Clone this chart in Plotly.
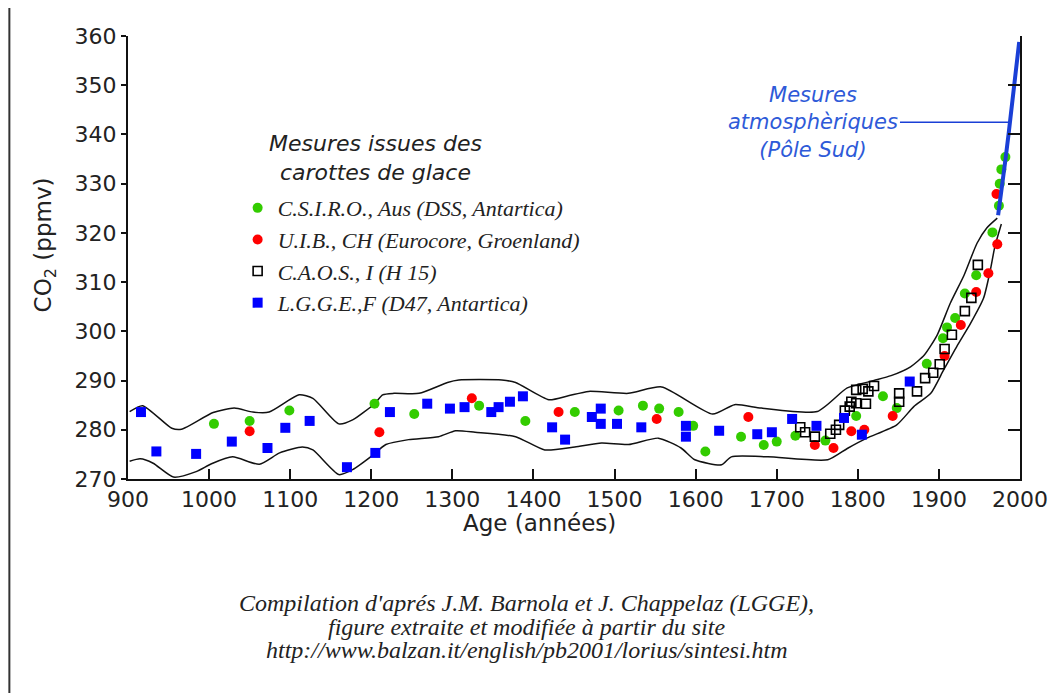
import plotly.graph_objects as go

# ---------------- data ----------------
csiro_year = [1006, 1050, 1099, 1204, 1253, 1333, 1390, 1451, 1505, 1535, 1555, 1579,
              1597, 1612, 1656, 1684, 1700, 1723, 1760, 1798, 1831, 1848, 1885, 1905,
              1910, 1920, 1932, 1946, 1966, 1974, 1975, 1977, 1982]
csiro_co2 = [281.2, 281.8, 283.9, 285.3, 283.2, 284.9, 281.8, 283.6, 283.9, 284.9, 284.3, 283.6,
             280.8, 275.6, 278.6, 276.9, 277.6, 278.8, 277.8, 282.8, 286.8, 284.4, 293.4, 298.6,
             300.8, 302.7, 307.7, 311.4, 320.1, 325.5, 330.0, 332.9, 335.4]

uib_year = [1050, 1210, 1324, 1431, 1552, 1665, 1747, 1770, 1792, 1808, 1843, 1907,
            1927, 1946, 1961, 1971, 1972]
uib_co2 = [279.7, 279.5, 286.4, 283.6, 282.2, 282.6, 276.9, 276.3, 279.7, 280.0, 282.8, 295.0,
           301.3, 308.0, 311.8, 327.9, 317.7]

caos_year = [1729, 1735, 1747, 1766, 1773, 1777, 1784, 1790, 1792, 1798, 1810, 1798, 1806,
             1813, 1820, 1851, 1851, 1873, 1883, 1893, 1901, 1907, 1916, 1932, 1940, 1948]
caos_co2 = [280.5, 279.5, 278.6, 279.2, 280.0, 281.0, 283.9, 284.7, 285.7, 285.4, 285.3, 288.1, 288.3,
            287.8, 288.9, 287.4, 285.7, 287.8, 290.5, 291.6, 293.3, 296.4, 299.3, 304.1, 306.8, 313.5]

lgge_year = [916, 935, 984, 1028, 1072, 1094, 1124, 1170, 1205, 1223, 1269, 1297, 1315, 1348,
             1357, 1371, 1387, 1423, 1439, 1472, 1483, 1483, 1503, 1533, 1588, 1588, 1629,
             1676, 1694, 1719, 1749, 1783, 1805, 1864]
lgge_co2 = [283.6, 275.6, 275.1, 277.6, 276.3, 280.4, 281.8, 272.4, 275.3, 283.6, 285.3, 284.3, 284.6, 283.6,
            284.6, 285.7, 286.8, 280.5, 278.0, 282.6, 284.3, 281.2, 281.2, 280.5, 280.8, 278.6, 279.8,
            279.1, 279.5, 282.2, 280.8, 282.4, 279.0, 289.8]

upper_year = [902, 918, 954, 966, 1005, 1031, 1054, 1074, 1111, 1128, 1160, 1177, 1204, 1214,
              1228, 1259, 1294, 1308, 1361, 1378, 1419, 1443, 1468, 1517, 1558, 1621, 1648,
              1681, 1750, 1787, 1820, 1841, 1865, 1882, 1898, 1914, 1931, 1947, 1959, 1972]
upper_co2 = [283.7, 284.9, 280.3, 280.1, 283.5, 284.4, 283.6, 283.6, 287.1, 286.4, 281.2, 282.0, 285.3, 287.1,
             287.4, 287.4, 289.6, 290.1, 290.1, 289.6, 286.1, 286.9, 287.8, 287.4, 288.7, 283.2, 285.1,
             284.4, 283.7, 288.5, 290.0, 291.0, 292.8, 295.2, 299.3, 305.7, 311.4, 317.9, 321.0, 323.0]

lower_year = [902, 915, 931, 956, 984, 1003, 1029, 1062, 1087, 1115, 1128, 1160, 1177, 1200,
              1218, 1246, 1283, 1304, 1328, 1378, 1414, 1451, 1484, 1517, 1554, 1582, 1599,
              1632, 1644, 1689, 1763, 1787, 1811, 1848, 1869, 1890, 1906, 1922, 1939, 1955,
              1963, 1969, 1977]
lower_co2 = [273.6, 274.1, 273.2, 270.4, 271.5, 273.1, 274.5, 273.0, 275.3, 276.5, 275.9, 270.9, 271.9, 274.6,
             277.0, 278.0, 278.6, 279.8, 279.5, 278.6, 275.9, 276.5, 277.3, 277.0, 278.3, 276.3, 273.9,
             272.9, 274.5, 274.5, 273.9, 276.2, 278.3, 281.0, 284.7, 287.4, 292.2, 296.9, 301.6, 306.7,
             312.1, 317.2, 321.8]

atm_year = [1973, 1978, 1982, 1986, 1989, 1993, 1996, 1999]
atm_co2 = [323.6, 329.4, 334.8, 340.2, 344.9, 350.3, 355.4, 358.8]

x_ticks = [900, 1000, 1100, 1200, 1300, 1400, 1500, 1600, 1700, 1800, 1900, 2000]
y_ticks = [270, 280, 290, 300, 310, 320, 330, 340, 350, 360]

names = ["C.S.I.R.O., Aus (DSS, Antartica)",
         "U.I.B., CH (Eurocore, Groenland)",
         "C.A.O.S., I (H 15)",
         "L.G.G.E.,F (D47, Antartica)"]

# ---------------- figure ----------------
fig = go.Figure()

env_line = dict(color="#111111", width=1.5, shape="spline", smoothing=0.6)
fig.add_trace(go.Scatter(x=upper_year, y=upper_co2, mode="lines", line=env_line,
                         showlegend=False, hoverinfo="skip"))
fig.add_trace(go.Scatter(x=lower_year, y=lower_co2, mode="lines", line=env_line,
                         showlegend=False, hoverinfo="skip"))

fig.add_trace(go.Scatter(x=csiro_year, y=csiro_co2, mode="markers", name=names[0],
                         marker=dict(symbol="circle", size=10, color="#33cc00")))
fig.add_trace(go.Scatter(x=uib_year, y=uib_co2, mode="markers", name=names[1],
                         marker=dict(symbol="circle", size=10, color="#ff0000")))
fig.add_trace(go.Scatter(x=caos_year, y=caos_co2, mode="markers", name=names[2],
                         marker=dict(symbol="square-open", size=9, color="#000000",
                                     line=dict(width=1.6, color="#000000"))))
fig.add_trace(go.Scatter(x=lgge_year, y=lgge_co2, mode="markers", name=names[3],
                         marker=dict(symbol="square", size=10, color="#0000ff")))

fig.add_trace(go.Scatter(x=atm_year, y=atm_co2, mode="lines", yaxis="y2",
                         line=dict(color="#1a3fd6", width=4),
                         showlegend=False, hoverinfo="skip"))

tick_font = dict(family="DejaVu Sans", size=22, color="#222222")

# the page adds an 8px body margin, so the figure is 8px smaller than the window
fig.update_layout(
    width=1052, height=685,
    paper_bgcolor="white", plot_bgcolor="white",
    margin=dict(l=120, r=37, t=28, b=214),
    xaxis=dict(range=[900, 2000], tickmode="array", tickvals=x_ticks,
               ticks="inside", ticklen=10, tickwidth=1.5, tickcolor="#111",
               showline=True, linecolor="#111", linewidth=2, mirror=False,
               showgrid=False, zeroline=False, tickfont=tick_font),
    yaxis=dict(range=[270, 360], tickmode="array", tickvals=y_ticks,
               ticks="outside", ticklen=5, tickwidth=1.5, tickcolor="#111",
               showline=True, linecolor="#111", linewidth=2,
               showgrid=False, zeroline=False, tickfont=tick_font),
    yaxis2=dict(range=[270, 360], overlaying="y", side="right", tickmode="array",
                tickvals=y_ticks, ticks="inside", ticklen=12, tickwidth=1.5,
                tickcolor="#111", showticklabels=False, showline=True,
                linecolor="#111", linewidth=2, showgrid=False, zeroline=False),
    legend=dict(x=0.1229, y=0.659, xanchor="left", yanchor="top",
                bgcolor="rgba(0,0,0,0)", borderwidth=0,
                font=dict(family="Liberation Serif", size=22, color="#222222", style="italic")),
    showlegend=True,
)

annotations = [
    dict(text="Mesures issues des<br>carottes de glace", xref="paper", yref="paper",
         x=0.277, y=0.724, xanchor="center", yanchor="middle", showarrow=False, align="center",
         font=dict(family="DejaVu Sans", size=22, color="#222222", style="italic")),
    dict(text="Mesures<br>atmosphèriques<br>(Pôle Sud)", x=1987, y=342.5, xref="x", yref="y",
         showarrow=True, arrowhead=0, arrowwidth=1.5, arrowcolor="#1a3fd6",
         ax=-196, ay=0, align="center",
         font=dict(family="DejaVu Sans", size=21, color="#2e5ad8", style="italic")),
    dict(text="CO<sub>2</sub> (ppmv)", xref="paper", yref="paper", x=-0.0927, y=0.528,
         xanchor="center", yanchor="middle", textangle=-90, showarrow=False,
         font=dict(family="DejaVu Sans", size=23, color="#222222")),
    dict(text="Age (années)", xref="paper", yref="paper", x=0.4615, y=-0.1,
         xanchor="center", yanchor="middle", showarrow=False,
         font=dict(family="DejaVu Sans", size=23, color="#222222")),
]
caption = ["Compilation d'aprés J.M. Barnola et J. Chappelaz (LGGE),",
           "figure extraite et modifiée à partir du site",
           "http://www.balzan.it/english/pb2001/lorius/sintesi.htm"]
cap_y = [-0.281, -0.333, -0.385]
for t, yy in zip(caption, cap_y):
    annotations.append(dict(text=t, xref="paper", yref="paper", x=0.447, y=yy,
                            xanchor="center", yanchor="middle", showarrow=False,
                            font=dict(family="Liberation Serif", size=24, color="#222222",
                                      style="italic")))
fig.update_layout(annotations=annotations)

fig.add_shape(type="line", xref="paper", yref="paper", x0=-0.133, x1=-0.133,
              y0=-0.49, y1=1.07, line=dict(color="#333333", width=2))

fig.write_html("out.html")
